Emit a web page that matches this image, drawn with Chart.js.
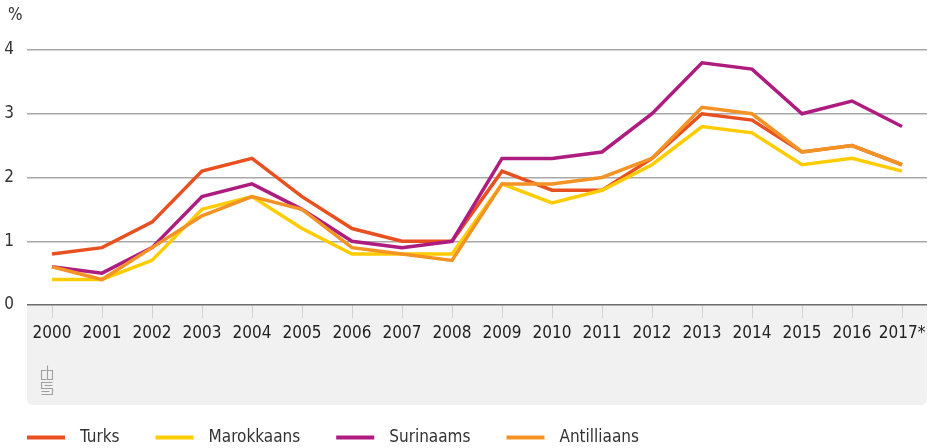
<!DOCTYPE html>
<html>
<head>
<meta charset="utf-8">
<script src="https://cdn.jsdelivr.net/npm/chart.js@4"></script>
<style>
  html, body { margin: 0; padding: 0; background: #fff; }
  #wrap { width: 934px; height: 448px; position: relative; }
</style>
</head>
<body>
<div id="wrap"><canvas id="chart"></canvas></div>
<script>
const jaren = ['2000','2001','2002','2003','2004','2005','2006','2007','2008',
               '2009','2010','2011','2012','2013','2014','2015','2016','2017*'];
const turks       = [0.8,0.9,1.3,2.1,2.3,1.7,1.2,1.0,1.0,2.1,1.8,1.8,2.3,3.0,2.9,2.4,2.5,2.2];
const marokkaans  = [0.4,0.4,0.7,1.5,1.7,1.2,0.8,0.8,0.8,1.9,1.6,1.8,2.2,2.8,2.7,2.2,2.3,2.1];
const surinaams   = [0.6,0.5,0.9,1.7,1.9,1.5,1.0,0.9,1.0,2.3,2.3,2.4,3.0,3.8,3.7,3.0,3.2,2.8];
const antilliaans = [0.6,0.4,0.9,1.4,1.7,1.5,0.9,0.8,0.7,1.9,1.9,2.0,2.3,3.1,3.0,2.4,2.5,2.2];
const yTicks = [0, 1, 2, 3, 4];

const FONT = '"DejaVu Sans Condensed", "Liberation Sans Narrow", "DejaVu Sans", sans-serif';

function lijn(label, data, kleur, volgorde) {
    return {
        label: label,
        data: data,
        borderColor: kleur,
        backgroundColor: kleur,
        borderWidth: 3.5,
        pointRadius: 0,
        tension: 0,
        order: volgorde
    };
}

// grijze band onder de x-as, procent-teken, cbs-logo en legenda
const decor = {
    id: 'decor',
    beforeDraw(chart) {
        const c = chart.ctx;
        const a = chart.chartArea;
        const x = chart.scales.x;
        c.save();
        c.fillStyle = '#f0f1f0';
        c.beginPath();
        c.roundRect(a.left, a.bottom, a.right - a.left, x.bottom - a.bottom, [0, 0, 6, 6]);
        c.fill();
        c.restore();
    },
    afterDraw(chart) {
        const c = chart.ctx;
        const a = chart.chartArea;
        c.save();
        c.fillStyle = '#333';
        c.font = '17px ' + FONT;
        c.textBaseline = 'middle';
        c.fillText('%', 8, 16);

        // logo
        c.strokeStyle = '#a0a0a0';
        c.lineWidth = 1.1;
        const lx = a.left + 14.5, ly = a.bottom + 60.5;
        c.beginPath();
        // c
        c.moveTo(lx + 5, ly + 5); c.lineTo(lx, ly + 5); c.lineTo(lx, ly + 14); c.lineTo(lx + 5, ly + 14);
        // b
        c.moveTo(lx + 6, ly); c.lineTo(lx + 6, ly + 14); c.lineTo(lx + 11, ly + 14);
        c.lineTo(lx + 11, ly + 5); c.lineTo(lx + 6, ly + 5);
        // s
        c.moveTo(lx + 11, ly + 17); c.lineTo(lx, ly + 17); c.lineTo(lx, ly + 23);
        c.lineTo(lx + 11, ly + 23); c.lineTo(lx + 11, ly + 29); c.lineTo(lx, ly + 29);
        c.moveTo(lx + 11, ly + 20); c.lineTo(lx + 3, ly + 20);
        c.moveTo(lx + 8, ly + 26); c.lineTo(lx, ly + 26);
        c.stroke();

        // legenda
        c.font = '17px ' + FONT;
        c.textBaseline = 'middle';
        let lgx = a.left;
        const lgy = 437.5;
        chart.data.datasets.forEach(d => {
            c.fillStyle = d.borderColor;
            c.fillRect(lgx, lgy - 2, 38, 4);
            c.fillStyle = '#333';
            c.fillText(d.label, lgx + 53, lgy);
            lgx += 53 + c.measureText(d.label).width + 36;
        });
        c.restore();
    }
};

new Chart(document.getElementById('chart'), {
    type: 'line',
    data: {
        labels: jaren,
        datasets: [
            lijn('Turks', turks, '#e9501f', 4),
            lijn('Marokkaans', marokkaans, '#ffcc00', 3),
            lijn('Surinaams', surinaams, '#ae1c80', 2),
            lijn('Antilliaans', antilliaans, '#f39325', 1)
        ]
    },
    options: {
        responsive: true,
        maintainAspectRatio: false,
        animation: false,
        layout: { padding: { top: 50, right: 7, left: 0, bottom: 43 } },
        plugins: {
            tooltip: { enabled: false },
            legend: { display: false }
        },
        scales: {
            x: {
                offset: true,
                grid: {
                    offset: false,
                    drawOnChartArea: false,
                    drawTicks: true,
                    tickLength: 13,
                    tickColor: '#d2d2d2'
                },
                border: { display: false },
                ticks: {
                    color: '#222',
                    font: { family: FONT, size: 17 },
                    padding: 5,
                    maxRotation: 0,
                    autoSkip: false
                },
                afterFit(scale) { scale.height = 100; }
            },
            y: {
                min: 0,
                max: 4,
                afterBuildTicks(scale) { scale.ticks = yTicks.map(v => ({ value: v })); },
                grid: {
                    drawTicks: false,
                    color: ctx => ctx.tick && ctx.tick.value === 0 ? '#6e6e6e' : '#a8a8a8',
                    lineWidth: 1.5
                },
                border: { display: false },
                ticks: {
                    color: '#333',
                    font: { family: FONT, size: 17 },
                    padding: 13
                },
                afterFit(scale) { scale.width = 27; }
            }
        }
    },
    plugins: [decor]
});
</script>
</body>
</html>
